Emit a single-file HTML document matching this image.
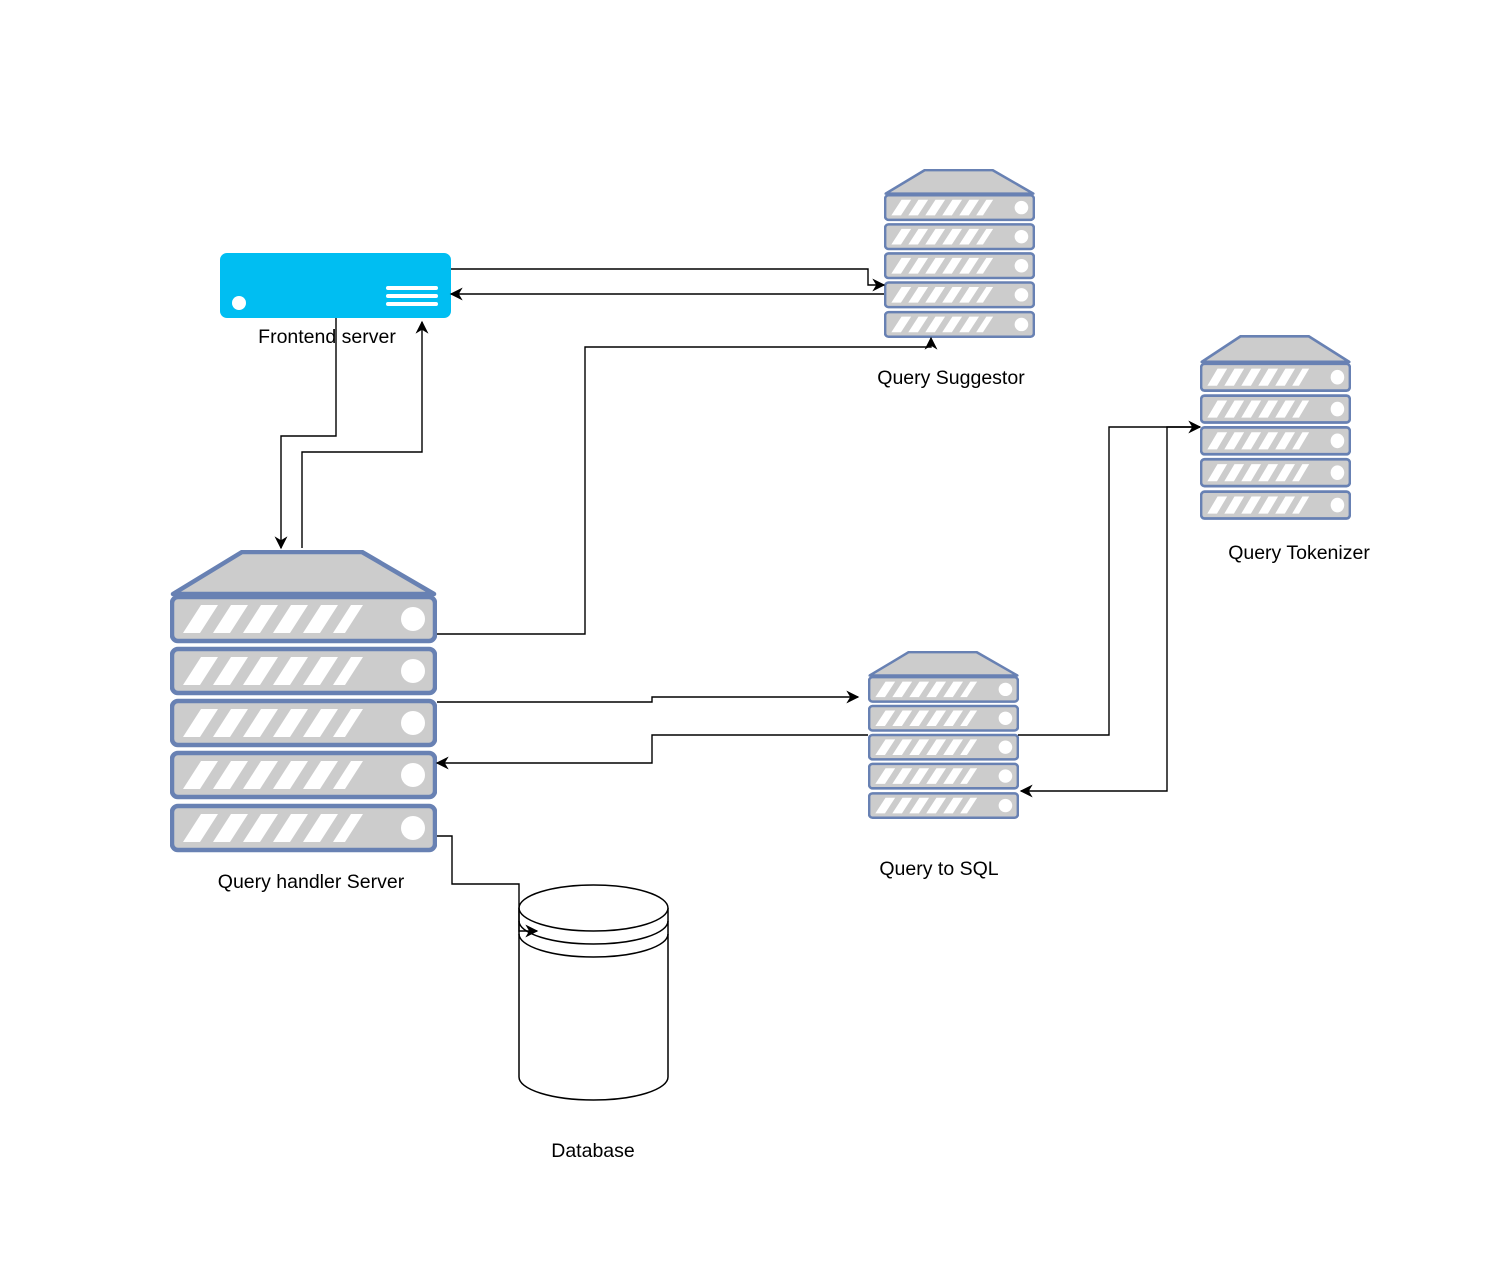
<!DOCTYPE html>
<html><head><meta charset="utf-8"><style>
html,body{margin:0;padding:0;background:#fff;}
svg{display:block}
text{font-family:"Liberation Sans",Arial,sans-serif;font-size:19.5px;fill:#000;text-anchor:middle}
</style></head><body>
<svg width="1486" height="1270" viewBox="0 0 1486 1270" xmlns="http://www.w3.org/2000/svg">
<defs>
<g id="unit">
  <rect x="2" y="0" width="263" height="44" rx="6" fill="#CCCCCC" stroke="#6881B3" stroke-width="4.5"/>
  <polygon points="31,8 48,8 30,36 13,36" fill="#fff"/>
  <polygon points="61,8 78,8 60,36 43,36" fill="#fff"/>
  <polygon points="91,8 108,8 90,36 73,36" fill="#fff"/>
  <polygon points="121,8 138,8 120,36 103,36" fill="#fff"/>
  <polygon points="151,8 168,8 150,36 133,36" fill="#fff"/>
  <polygon points="181,8 193,8 175,36 163,36" fill="#fff"/>
  <circle cx="243" cy="22" r="12" fill="#fff"/>
</g>
<symbol id="server" viewBox="0 0 267 304" preserveAspectRatio="none">
  <polygon points="72,2 192,2 264,44 3,44" fill="#CCCCCC" stroke="#6881B3" stroke-width="4.5" stroke-linejoin="round"/>
  <use href="#unit" transform="translate(0,47)"/>
  <use href="#unit" transform="translate(0,99)"/>
  <use href="#unit" transform="translate(0,151)"/>
  <use href="#unit" transform="translate(0,203)"/>
  <use href="#unit" transform="translate(0,256)"/>
</symbol>
<marker id="ar" viewBox="0 0 10 10" refX="9" refY="5" markerWidth="13" markerHeight="13" markerUnits="userSpaceOnUse" orient="auto">
  <path d="M0,0 L10,5 L0,10 L3,5 Z" fill="#000"/>
</marker>
</defs>

<use href="#server" x="170" y="550" width="267" height="304"/>
<use href="#server" x="884" y="169" width="151" height="170"/>
<use href="#server" x="1200" y="335" width="151" height="186"/>
<use href="#server" x="868" y="651" width="151" height="169"/>

<rect x="220" y="253" width="231" height="65" rx="7" fill="#00BEF2"/>
<circle cx="239" cy="303" r="7" fill="#fff"/>
<g stroke="#fff" stroke-width="4" stroke-linecap="round">
<line x1="388" y1="288" x2="436" y2="288"/>
<line x1="388" y1="296" x2="436" y2="296"/>
<line x1="388" y1="304" x2="436" y2="304"/>
</g>

<g fill="#fff" stroke="#000" stroke-width="1.5">
<path d="M519,908 L519,1077 A74.5,23 0 0 0 668,1077 L668,908"/>
<ellipse cx="593.5" cy="908" rx="74.5" ry="23"/>
<path d="M519,921 A74.5,23 0 0 0 668,921" fill="none"/>
<path d="M519,934 A74.5,23 0 0 0 668,934" fill="none"/>
</g>

<g fill="none" stroke="#000" stroke-width="1.4">
<polyline points="451,269 868,269 868,285 884,285" marker-end="url(#ar)"/>
<polyline points="884,294 451,294" marker-end="url(#ar)"/>
<polyline points="437,634 585,634 585,347 931,347 931,338" marker-end="url(#ar)"/>
<polyline points="336,318 336,436 281,436 281,548" marker-end="url(#ar)"/>
<polyline points="302,548 302,452 422,452 422,322" marker-end="url(#ar)"/>
<polyline points="437,702 652,702 652,697 858,697" marker-end="url(#ar)"/>
<polyline points="868,735 652,735 652,763 437,763" marker-end="url(#ar)"/>
<polyline points="1018,735 1109,735 1109,427 1200,427" marker-end="url(#ar)"/>
<polyline points="1200,427 1167,427 1167,791 1021,791" marker-end="url(#ar)"/>
<polyline points="437,836 452,836 452,884 519,884 519,931 537,931" marker-end="url(#ar)"/>
</g>

<text x="327" y="343">Frontend server</text>
<text x="951" y="384">Query Suggestor</text>
<text x="1299" y="559">Query Tokenizer</text>
<text x="939" y="875">Query to SQL</text>
<text x="311" y="888">Query handler Server</text>
<text x="593" y="1157">Database</text>
</svg>
</body></html>
